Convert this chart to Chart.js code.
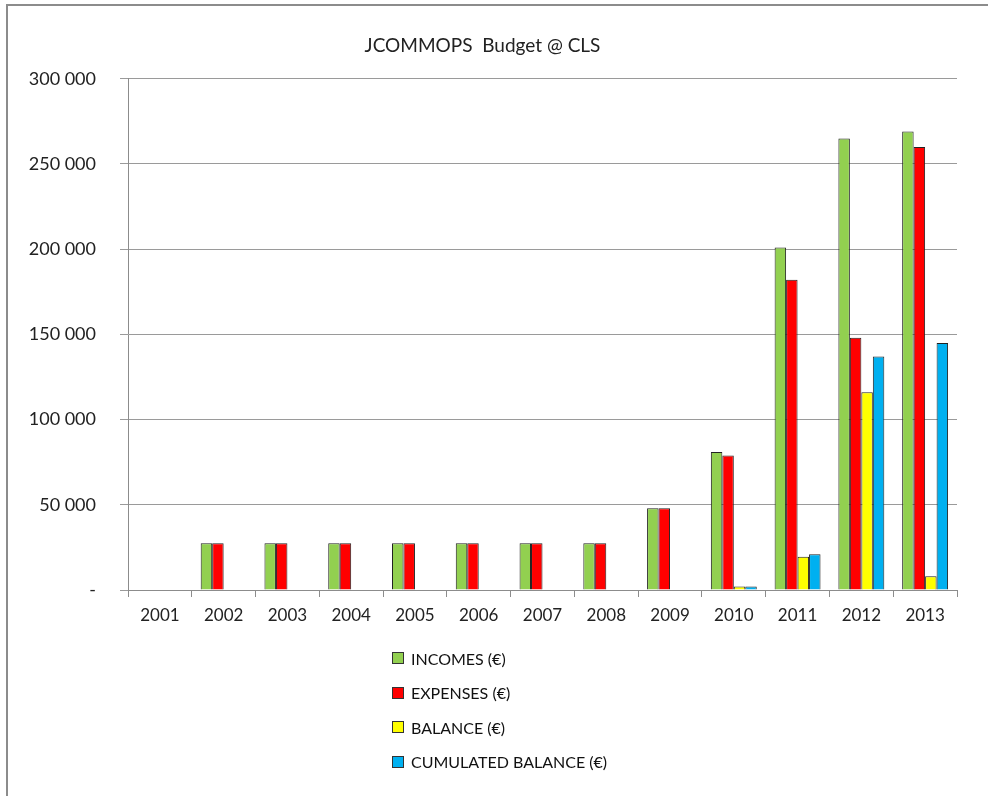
<!DOCTYPE html>
<html>
<head>
<meta charset="utf-8">
<script src="https://cdn.jsdelivr.net/npm/chart.js@4/dist/chart.umd.min.js"></script>
<style>
  html, body { margin: 0; padding: 0; background: #fff; }
  #frame { position: absolute; left: 6px; top: 4px; width: 990px; height: 800px;
           border-top: 2px solid #8c8c8c; border-left: 2px solid #8c8c8c; }
  #wrap { position: absolute; left: 8px; top: 6px; width: 980px; height: 640px; }
  #legend { position: absolute; left: 392px; top: 641px; font-family: Lato, sans-serif;
            font-size: 16px; color: #111; }
  #legend div { height: 34.5px; display: flex; align-items: center; }
  #legend span.box { display: inline-block; width: 10px; height: 10px; margin-right: 7px;
                     border: 1px solid #333; }
</style>
</head>
<body>
<div id="frame"></div>
<div id="wrap"><canvas id="budget"></canvas></div>
<div id="legend"></div>
<script>
var years = ["2001", "2002", "2003", "2004", "2005", "2006", "2007", "2008", "2009", "2010", "2011", "2012", "2013"];
var incomes = [null, 27500, 27500, 27500, 27500, 27500, 27500, 27500, 48000, 81000, 201000, 265000, 269000];
var expenses = [null, 27500, 27500, 27500, 27500, 27500, 27500, 27500, 48000, 79000, 182000, 148000, 260000];
var balance = [null, null, null, null, null, null, null, null, null, 2000, 19500, 116000, 8000];
var cumulated = [null, null, null, null, null, null, null, null, null, 2000, 21000, 137000, 145000];

var budgetCtx = document.getElementById("budget").getContext('2d');
var fontName = "Lato, 'Open Sans', sans-serif";

function makeSet(label, data, color) {
    return {
        label: label,
        data: data,
        backgroundColor: color,
        borderColor: "#222",
        borderWidth: 1,
        barPercentage: 1,
        categoryPercentage: 0.72
    };
}

function formatTick(v) {
    if (v === 0) return "-";
    return v.toString().replace(/\B(?=(\d{3})+(?!\d))/g, " ");
}

var budgetChart = new Chart(budgetCtx, {
    type: 'bar',
    data: {
        labels: years,
        datasets: [
            makeSet("INCOMES (€)", incomes, "#92D050"),
            makeSet("EXPENSES (€)", expenses, "#FF0000"),
            makeSet("BALANCE (€)", balance, "#FFFF00"),
            makeSet("CUMULATED BALANCE (€)", cumulated, "#00B0F0")
        ]
    },
    options: {
        responsive: true,
        maintainAspectRatio: false,
        animation: false,
        layout: { padding: { left: 0, right: 31, top: 0, bottom: 0 } },
        plugins: {
            legend: { display: false },
            tooltip: { enabled: false },
            title: {
                display: true,
                text: "JCOMMOPS  Budget @ CLS",
                color: "#222",
                font: { family: fontName, size: 19, weight: 'normal' },
                padding: { top: 28, bottom: 22 }
            }
        },
        scales: {
            x: {
                grid: { drawOnChartArea: false, drawTicks: true, tickLength: 7, color: "#8c8c8c", offset: true },
                border: { display: true, color: "#8c8c8c" },
                ticks: { color: "#222", font: { family: fontName, size: 17 }, padding: 8 },
                afterFit: function (scale) { scale.height = 56; }
            },
            y: {
                min: 0,
                max: 300000,
                grid: { color: "#9a9a9a", tickLength: 8 },
                border: { display: true, color: "#8c8c8c" },
                ticks: {
                    stepSize: 50000,
                    color: "#222",
                    padding: 24,
                    font: { family: fontName, size: 18 },
                    callback: function (v) { return formatTick(v); }
                },
                afterFit: function (scale) { scale.width = 120; }
            }
        }
    }
});

var legendBox = document.getElementById("legend");
budgetChart.data.datasets.forEach(function (ds) {
    var row = document.createElement("div");
    var box = document.createElement("span");
    box.className = "box";
    box.style.background = ds.backgroundColor;
    row.appendChild(box);
    row.appendChild(document.createTextNode(ds.label));
    legendBox.appendChild(row);
});
</script>
</body>
</html>
